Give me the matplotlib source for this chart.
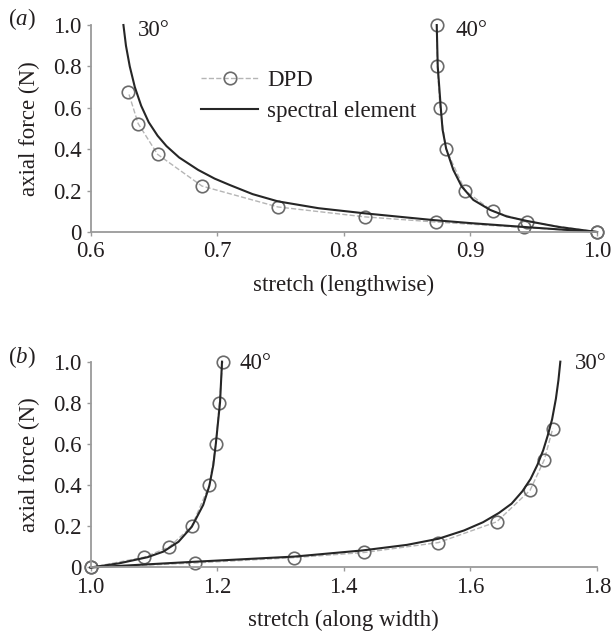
import matplotlib
matplotlib.use('Agg')
import matplotlib.pyplot as plt

plt.rcParams['font.family'] = ['Liberation Serif', 'DejaVu Serif']
plt.rcParams['mathtext.fontset'] = 'custom'
plt.rcParams['mathtext.rm'] = 'Liberation Serif'
plt.rcParams['mathtext.it'] = 'Liberation Serif:italic'

# DPD force levels (same for both panels)
dpd_f30 = [0, 0.022, 0.048, 0.073, 0.121, 0.222, 0.375, 0.524, 0.675]
dpd_f40 = [0, 0.05, 0.1, 0.2, 0.4, 0.6, 0.8, 1.0]

# panel (a): lengthwise stretch
dpd_a30 = [1.0, 0.942, 0.873, 0.8168, 0.748, 0.688, 0.653, 0.6376, 0.6299]
dpd_a40 = [1.0, 0.9445, 0.9176, 0.8958, 0.8808, 0.876, 0.8739, 0.8734]
se_a30_x = [1.0, 0.95, 0.9, 0.87, 0.85, 0.8168, 0.78, 0.748, 0.728, 0.71,
            0.698, 0.685, 0.670, 0.660, 0.653, 0.646, 0.640, 0.635, 0.631,
            0.628, 0.626]
se_a30_y = [0.0, 0.021, 0.043, 0.058, 0.07, 0.09, 0.115, 0.148, 0.183, 0.227,
            0.258, 0.30, 0.36, 0.415, 0.465, 0.53, 0.61, 0.7, 0.8, 0.9, 1.0]
se_a40_x = [1.0, 0.97, 0.945, 0.9287, 0.9155, 0.9023, 0.8931, 0.8865, 0.8808,
            0.878, 0.8766, 0.8742, 0.8734]
se_a40_y = [0.0, 0.024, 0.053, 0.075, 0.107, 0.155, 0.22, 0.30, 0.404,
            0.495, 0.6, 0.8, 1.0]

# panel (b): stretch along width
dpd_b30 = [1.0, 1.1657, 1.322, 1.4326, 1.5494, 1.6416, 1.6942, 1.7168, 1.730]
dpd_b40 = [1.0, 1.085, 1.1245, 1.1598, 1.1877, 1.198, 1.2035, 1.2088]
se_b30_x = [1.0, 1.165, 1.322, 1.43, 1.5, 1.55, 1.59, 1.62, 1.645, 1.665,
            1.682, 1.695, 1.706, 1.715, 1.722, 1.729, 1.735, 1.739, 1.742]
se_b30_y = [0.0, 0.028, 0.053, 0.083, 0.11, 0.14, 0.18, 0.22, 0.265, 0.31,
            0.37, 0.43, 0.50, 0.57, 0.64, 0.72, 0.82, 0.91, 1.0]
se_b40_x = [1.0, 1.045, 1.09, 1.115, 1.139, 1.16, 1.178, 1.1877, 1.194,
            1.198, 1.2046, 1.2077]
se_b40_y = [0.0, 0.02, 0.05, 0.077, 0.125, 0.198, 0.304, 0.397, 0.498,
            0.603, 0.803, 1.0]

yticks = [0, 0.2, 0.4, 0.6, 0.8, 1.0]
ytick_labels = ['0', '0.2', '0.4', '0.6', '0.8', '1.0']

txt = '#231f20'
axc = '#9a9a9a'
fs = 16.5

dpd_style = dict(color='#b5b5b5', ls='--', lw=1.0, marker='o', ms=9,
                 mfc='none', mec='#6a6a6a', mew=1.2, clip_on=False)
se_style = dict(color='#262626', lw=1.5, clip_on=False)

fig = plt.figure(figsize=(6.14, 6.40), dpi=100)
ax1 = fig.add_axes([0.1474, 0.6375, 0.825, 0.3234])
ax2 = fig.add_axes([0.1474, 0.1133, 0.825, 0.3216])


def style(ax, xlim, xticks, xlabels, xlabel):
    ax.set_xlim(*xlim)
    ax.set_ylim(0, 1.0)
    ax.set_xticks(xticks)
    ax.set_xticklabels(xlabels)
    ax.set_yticks(yticks)
    ax.set_yticklabels(ytick_labels)
    for s in ['top', 'right']:
        ax.spines[s].set_visible(False)
    for s in ['left', 'bottom']:
        ax.spines[s].set_color(axc)
        ax.spines[s].set_linewidth(1.3)
    ax.tick_params(direction='out', length=3, width=1, color=axc,
                   labelsize=fs, labelcolor=txt)
    ax.set_xlabel(xlabel, fontsize=fs, color=txt, labelpad=9)
    ax.set_ylabel('axial force (N)', fontsize=fs, color=txt, labelpad=9)


# (a)
ax1.plot(dpd_a30, dpd_f30, **dpd_style, label='DPD')
ax1.plot(dpd_a40, dpd_f40, **dpd_style)
ax1.plot(se_a30_x, se_a30_y, **se_style, label='spectral element')
ax1.plot(se_a40_x, se_a40_y, **se_style)
style(ax1, (0.6, 1.0), [0.6, 0.7, 0.8, 0.9, 1.0],
      ['0.6', '0.7', '0.8', '0.9', '1.0'], 'stretch (lengthwise)')
ax1.text(0.6375, 0.975, '30°', fontsize=fs, color=txt, va='center')
ax1.text(0.888, 0.975, '40°', fontsize=fs, color=txt, va='center')
ax1.legend(loc='upper left', bbox_to_anchor=(0.2, 0.825), frameon=False,
           fontsize=fs, handlelength=2.5, handletextpad=0.4,
           labelspacing=0.4, borderaxespad=0, labelcolor=txt)
fig.text(0.013, 0.97, r'($\mathit{a}$)', fontsize=fs, color=txt, va='center')

# (b)
ax2.plot(dpd_b30, dpd_f30, **dpd_style)
ax2.plot(dpd_b40, dpd_f40, **dpd_style)
ax2.plot(se_b30_x, se_b30_y, **se_style)
ax2.plot(se_b40_x, se_b40_y, **se_style)
style(ax2, (1.0, 1.8), [1.0, 1.2, 1.4, 1.6, 1.8],
      ['1.0', '1.2', '1.4', '1.6', '1.8'], 'stretch (along width)')
ax2.text(1.236, 0.989, '40°', fontsize=fs, color=txt, va='center')
ax2.text(1.765, 0.989, '30°', fontsize=fs, color=txt, va='center')
fig.text(0.013, 0.442, r'($\mathit{b}$)', fontsize=fs, color=txt, va='center')

fig.savefig('out.png', dpi=100)
